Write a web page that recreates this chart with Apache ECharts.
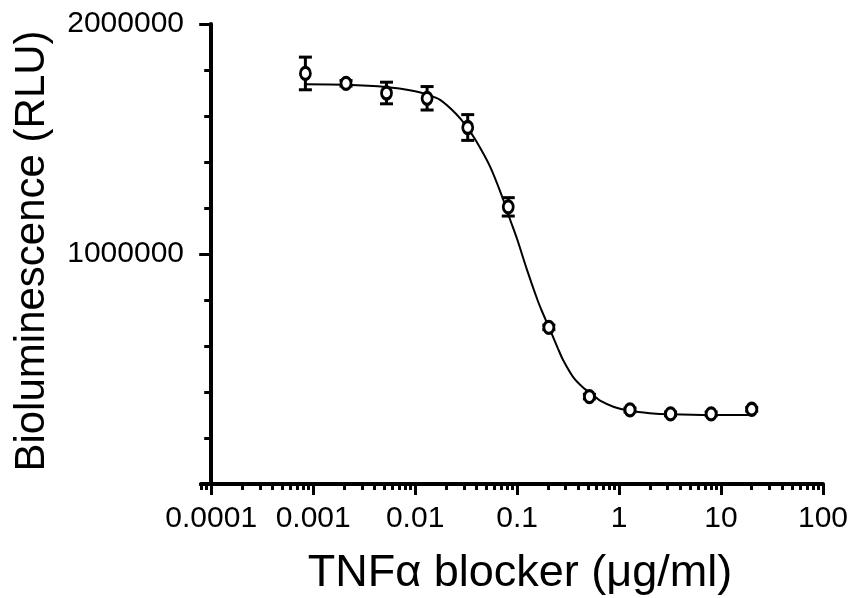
<!DOCTYPE html>
<html>
<head>
<meta charset="utf-8">
<script src="https://cdn.jsdelivr.net/npm/echarts@6/dist/echarts.min.js"></script>
<style>
	html,body{margin:0;padding:0;background:#fff;}
	#chart{width:850px;height:598px;}
</style>
</head>
<body>
<div id="chart"></div>
<script>
// concentrations (ug/ml), means and SD of the measured points
var concentrations = [0.000839, 0.0021, 0.00524, 0.0131, 0.0328, 0.0819, 0.2048, 0.512, 1.28, 3.2, 8, 20];
var means = [1785000, 1742000, 1700000, 1677000, 1550000, 1205000, 681000, 380000, 322000, 305000, 305000, 325000];
var sds = [71000, 12000, 47000, 51000, 56000, 40000, 10000, 10000, 8000, 8000, 8000, 8000];
// fitted curve (x as log10 of concentration)
var fitLogX = [-3.076, -2.686, -2.284, -2.0, -1.892, -1.755, -1.6, -1.5, -1.4, -1.265, -1.147, -1.069, -1.0, -0.902, -0.8, -0.755, -0.689, -0.6, -0.549, -0.45, -0.353, -0.25, -0.186, -0.05, 0.107, 0.3, 0.505, 0.903, 1.301];
var fitY = [1738000, 1736000, 1726000, 1708000, 1695000, 1670000, 1610000, 1557000, 1490000, 1380000, 1250000, 1150000, 1065000, 930000, 800000, 750000, 683000, 590000, 539000, 465000, 420000, 385000, 362000, 335000, 318000, 308000, 303000, 300000, 300000];
// tick labels of the log x axis (0.0001 .. 100)
var xTickLabels = ['0.0001', '0.001', '0.01', '0.1', '1', '10', '100'];
var xMinorMult = [2, 3, 4, 5, 6, 7, 8, 9];

// x axis works in decades above 0.0001, so the y axis can cross at 0.0001
function toU(c){ return Math.log10(c) + 4; }

var majorU = [];
for (var i = 0; i < xTickLabels.length; i++) majorU.push(i);
var minorU = [toU(0.00008), toU(0.00009)];
for (var k = 0; k < xTickLabels.length - 1; k++){
	for (var m = 0; m < xMinorMult.length; m++){
		minorU.push(k + Math.log10(xMinorMult[m]));
	}
}

var pointData = [], errData = [], fitData = [];
for (var i = 0; i < concentrations.length; i++){
	var u = toU(concentrations[i]);
	pointData.push([u, means[i]]);
	errData.push([u, means[i] - sds[i], means[i] + sds[i]]);
}
for (var i = 0; i < fitLogX.length; i++){
	fitData.push([fitLogX[i] + 4, fitY[i]]);
}

var font = 'Liberation Sans, Arial, sans-serif';
var chart = echarts.init(document.getElementById('chart'));
var option = {
	animation: false,
	backgroundColor: '#fff',
	grid: {left: 201, top: 24, width: 622, height: 460, containLabel: false, outerBoundsMode: 'none'},
	xAxis: [{
		type: 'value',
		position: 'bottom',
		min: -0.1,
		max: 6,
		splitLine: {show: false},
		axisLine: {onZero: false, lineStyle: {color: '#000', width: 4}},
		axisTick: {show: true, customValues: majorU, length: 11, lineStyle: {color: '#000', width: 3}},
		axisLabel: {
			customValues: majorU,
			color: '#000', fontFamily: font, fontSize: 30, margin: 20,
			formatter: function(v){ return xTickLabels[Math.round(v)]; }
		},
		name: 'TNF\u03b1 blocker (\u03bcg/ml)',
		nameLocation: 'middle',
		nameGap: 67,
		nameMoveOverlap: false,
		nameTextStyle: {color: '#000', fontFamily: font, fontSize: 45, padding: [0, 0, 0, 16]}
	}, {
		type: 'value',
		position: 'bottom',
		min: -0.1,
		max: 6,
		splitLine: {show: false},
		axisLine: {show: false, onZero: false},
		axisTick: {show: true, customValues: minorU, length: 6, lineStyle: {color: '#000', width: 3}},
		axisLabel: {show: false}
	}],
	yAxis: {
		type: 'value',
		min: 0,
		max: 2000000,
		interval: 1000000,
		splitLine: {show: false},
		axisLine: {onZero: true, onZeroAxisIndex: 0, lineStyle: {color: '#000', width: 4}},
		axisTick: {length: 12, lineStyle: {color: '#000', width: 3}},
		minorTick: {show: true, splitNumber: 5, length: 7, lineStyle: {color: '#000', width: 3}},
		axisLabel: {
			color: '#000', fontFamily: font, fontSize: 30, margin: 17,
			formatter: function(v){ return v === 0 ? '' : String(v); }
		},
		name: 'Bioluminescence (RLU)',
		nameLocation: 'middle',
		nameGap: 148,
		nameMoveOverlap: false,
		nameTextStyle: {color: '#000', fontFamily: font, fontSize: 42, padding: [0, 0, 0, 6]}
	},
	series: [{
		name: 'fit',
		type: 'line',
		data: fitData,
		smooth: 0.3,
		showSymbol: false,
		lineStyle: {color: '#000', width: 2},
		z: 3
	}, {
		name: 'sd',
		type: 'custom',
		data: errData,
		renderItem: function(params, api){
			var top = api.coord([api.value(0), api.value(2)]);
			var bot = api.coord([api.value(0), api.value(1)]);
			var w = 6.5;
			var st = {stroke: '#000', lineWidth: 3};
			return {
				type: 'group',
				children: [
					{type: 'line', shape: {x1: top[0], y1: top[1], x2: bot[0], y2: bot[1]}, style: st},
					{type: 'line', shape: {x1: top[0] - w, y1: top[1], x2: top[0] + w, y2: top[1]}, style: st},
					{type: 'line', shape: {x1: bot[0] - w, y1: bot[1], x2: bot[0] + w, y2: bot[1]}, style: st}
				]
			};
		},
		z: 4
	}, {
		name: 'mean',
		type: 'scatter',
		data: pointData,
		symbol: 'circle',
		symbolSize: [10, 12],
		itemStyle: {color: '#fff', borderColor: '#000', borderWidth: 3, opacity: 1},
		z: 5
	}]
};
chart.setOption(option);
</script>
</body>
</html>
